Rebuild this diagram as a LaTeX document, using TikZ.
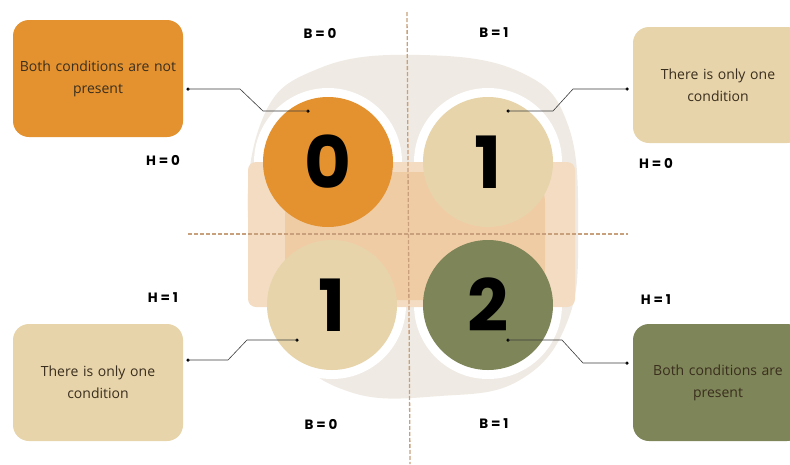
\documentclass[tikz,border=0pt]{standalone}
\usepackage{fontspec}
\setmainfont{Open Sans}
\newfontfamily\pop{Poppins}
\usetikzlibrary{calc}
\definecolor{orng}{HTML}{E3922F}
\definecolor{beig}{HTML}{E7D4AA}
\definecolor{olive}{HTML}{7E8558}
\definecolor{dashc}{HTML}{C9A07C}
\definecolor{blobc}{HTML}{EFEAE3}
\definecolor{peach}{HTML}{F3DCC2}
\definecolor{peachd}{HTML}{EFC08E}
\definecolor{txt}{HTML}{3A2E1E}
\definecolor{linec}{HTML}{3C3C3C}
\begin{document}
\begin{tikzpicture}[x=1pt,y=-1pt,
  infobox/.style={rounded corners=16pt, inner sep=0pt, text width=165pt, align=center,
     font=\fontsize{14}{22}\selectfont, text=txt},
  numcirc/.style={circle, inner sep=0pt, minimum size=130pt, font=\pop\bfseries\fontsize{72}{72}\selectfont, text=black},
  ring/.style={circle, fill=white, inner sep=0pt, minimum size=148pt},
  lab/.style={font=\pop\bfseries\fontsize{13.5}{15}\selectfont, text=black},
  conn/.style={draw=linec, line width=0.6pt},
  dot/.style={circle, fill=black, inner sep=0pt, minimum size=3.5pt}]
\useasboundingbox (0,0) rectangle (790,464);
% background blob
\fill[blobc] plot[smooth cycle, tension=0.7] coordinates {(262,120) (320,68) (420,55) (520,72) (568,125) (578,230) (568,320) (520,380) (440,396) (350,392) (290,345) (250,240)};
% white rings
\node[ring] (r0) at (328,162) {};
\node[ring] (r1) at (488,162) {};
\node[ring] (r2) at (332,305) {};
\node[ring] (r3) at (488,305) {};
% peach band over the rings
\fill[peach, rounded corners=8pt] (248,162) rectangle (575,307);
\fill[peachd, opacity=0.55, rounded corners=30pt] (285,172) rectangle (545,300);
% circles
\node[numcirc, fill=orng] (c0) at (328,162) {0};
\node[numcirc, fill=beig] (c1) at (488,162) {1};
\node[numcirc, fill=beig] (c2) at (332,305) {1};
\node[numcirc, fill=olive] (c3) at (488,305) {2};
% dashed axes
\coordinate (vt) at (407,12);
\coordinate (vb) at (410,464);
\coordinate (hl) at (188,234);
\coordinate (hr) at (628,234);
\draw[dashc, line width=1.3pt, dash pattern=on 4pt off 2pt] (vt) -- (vb);
\draw[dashc, line width=1.3pt, dash pattern=on 4pt off 2pt] (hl) -- (hr);
% boxes
\node[infobox, fill=orng, minimum width=170pt, minimum height=117pt] (b0) at (98,78.5) {Both conditions are not\\present};
\node[infobox, fill=beig, minimum width=170pt, minimum height=116pt] (b1) at (718,85) {There is only one\\condition};
\node[infobox, fill=beig, minimum width=170pt, minimum height=117pt] (b2) at (98,382.5) {There is only one\\condition};
\node[infobox, fill=olive, minimum width=170pt, minimum height=117pt] (b3) at (718,382.5) {Both conditions are\\present};
% labels
\node[lab] (lb0) at (320,33) {B = 0};
\node[lab] (lb1) at (494,33) {B = 1};
\node[lab] (lh0) at (163,160) {H = 0};
\node[lab] (lh1) at (656,163) {H = 0};
\node[lab] (lh2) at (163,298) {H = 1};
\node[lab] (lh3) at (656,300) {H = 1};
\node[lab] (lb2) at (321,424) {B = 0};
\node[lab] (lb3) at (494,424) {B = 1};
% connector dots
\node[dot] (p0a) at (188,89) {};
\node[dot] (p0b) at (308,111) {};
\node[dot] (p1a) at (508,111) {};
\node[dot] (p1b) at (627,89) {};
\node[dot] (p2a) at (188,360) {};
\node[dot] (p2b) at (297,340) {};
\node[dot] (p3a) at (508,340) {};
\node[dot] (p3b) at (627,363) {};
\draw[conn] (p0a.center) -- (240,89) -- (263,111) -- (p0b.center);
\draw[conn] (p1a.center) -- (553,111) -- (573,89) -- (p1b.center);
\draw[conn] (p2a.center) -- (228,360) -- (247,340) -- (p2b.center);
\draw[conn] (p3a.center) -- (562,340) -- (583,363) -- (p3b.center);
\end{tikzpicture}
\end{document}
